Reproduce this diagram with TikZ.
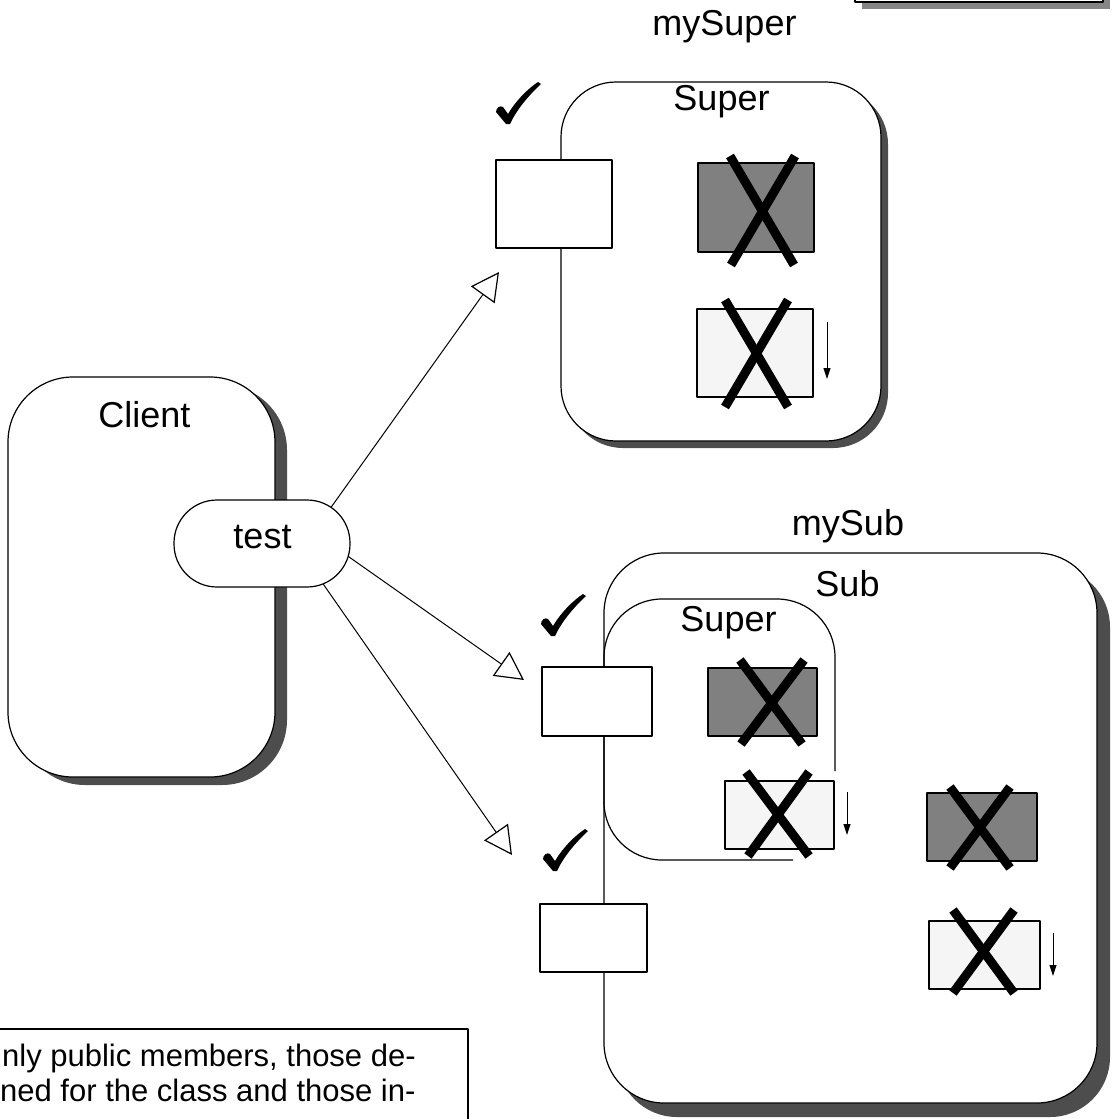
\documentclass[tikz,border=0pt]{standalone}
\usepackage{fontspec}
\setmainfont{Liberation Sans}
\usetikzlibrary{arrows.meta,shadows}
\definecolor{shade}{HTML}{4D4D4D}
\definecolor{darkfill}{HTML}{808080}
\definecolor{lightfill}{HTML}{F5F5F5}
\definecolor{capshade}{HTML}{858585}

% calligraphic tick, placed by the bottom vertex of its two strokes
\newcommand\drawtick[1]{%
  \fill[shift={#1}] (-1,1) -- (-11,-11) .. controls (-11,-15) and (-7,-18) .. (-4,-16)
    -- (1,-9) .. controls (10,-24) and (22,-35) .. (31,-41) -- (34,-39)
    .. controls (20,-26) and (9,-12) .. (3,1) -- cycle;}

\tikzset{
  objbox/.style={draw, fill=white, line width=1.2pt, inner sep=0pt},
  portbox/.style={draw, fill=white, line width=2pt, inner sep=0pt},
  hidden/.style={draw, fill=darkfill, line width=2pt, inner sep=0pt},
  inherited/.style={draw, fill=lightfill, line width=2pt, inner sep=0pt},
  cross/.style={line width=9pt, line cap=butt},
  lbl/.style={font=\fontsize{36}{40}\selectfont, anchor=base, inner sep=0pt},
  notetext/.style={font=\fontsize{31}{36}\selectfont, anchor=base west, inner sep=0pt},
  conn/.style={line width=1pt, -{Triangle[open, length=28pt, width=29pt, line width=1.2pt]}},
  downarrow/.style={line width=1pt, -{Triangle[length=11pt, width=7pt]}},
}

\begin{document}
\begin{tikzpicture}[x=1pt, y=-1pt, line join=round]
\useasboundingbox (0,0) rectangle (1111,1119);
\begin{scope}
\clip (0,0) rectangle (1111,1119);

% box in the top right corner
\fill[capshade] (862,-20) rectangle (1110,9);
\draw[fill=white, line width=1.2pt] (855,-20) rectangle (1103,2);

% object boxes with drop shadows
\node[objbox, rounded corners=65pt, minimum width=267pt, minimum height=400pt,
      drop shadow={shadow xshift=12pt, shadow yshift=-8pt, fill=shade, opacity=1}]
      (client) at (141.5,577) {};
\node[objbox, rounded corners=55pt, minimum width=320pt, minimum height=359pt,
      drop shadow={shadow xshift=7pt, shadow yshift=-7pt, fill=shade, opacity=1}]
      (superobj) at (721,261.5) {};
\node[objbox, rounded corners=60pt, minimum width=493pt, minimum height=550pt,
      drop shadow={shadow xshift=13pt, shadow yshift=-14pt, fill=shade, opacity=1}]
      (subobj) at (850.5,828) {};

% inner Super part of the Sub object (partly covered)
\draw[line width=1.2pt, rounded corners=58pt] (835,771) -- (835,599) -- (604,599)
      -- (604,860) -- (793,860);

% labels
\node[lbl] (lmysuper) at (724.5,35) {mySuper};
\node[lbl] (lsuper) at (721.5,110) {Super};
\node[lbl] (lclient) at (144.5,427) {Client};
\node[lbl] (lmysub) at (848,535) {mySub};
\node[lbl] (lsub) at (847.5,596) {Sub};
\node[lbl] (lsuperin) at (728.5,631) {Super};

% public ports
\node[portbox, minimum width=116pt, minimum height=88pt] (p0) at (554,204) {};
\node[portbox, minimum width=110pt, minimum height=69pt] (p1) at (597,701.5) {};
\node[portbox, minimum width=107pt, minimum height=68pt] (p2) at (593.5,938) {};

% private members
\node[hidden, minimum width=116pt, minimum height=89pt] (d0) at (756,207.5) {};
\node[hidden, minimum width=109pt, minimum height=68pt] (d1) at (762.5,702) {};
\node[hidden, minimum width=110pt, minimum height=68pt] (d2) at (982,827) {};
\node[inherited, minimum width=116pt, minimum height=88pt] (l0) at (755,353) {};
\node[inherited, minimum width=109pt, minimum height=68pt] (l1) at (779.5,815) {};
\node[inherited, minimum width=111pt, minimum height=68pt] (l2) at (984.5,955) {};

% crosses over the private members
\draw[cross] (730,156) -- (794,265);
\draw[cross] (795,156) -- (731,265);
\draw[cross] (725,300) -- (788,407);
\draw[cross] (788,300) -- (725,407);
\draw[cross] (740,660) -- (802,744);
\draw[cross] (804,660) -- (741,744);
\draw[cross] (746,772) -- (809,856);
\draw[cross] (809,772) -- (748,856);
\draw[cross] (950,787) -- (1010,868);
\draw[cross] (1010,787) -- (950,868);
\draw[cross] (953,910) -- (1014,993);
\draw[cross] (1014,910) -- (953,993);

% small downward arrows beside the inherited members
\coordinate (a0s) at (827,322); \coordinate (a0e) at (827,379);
\coordinate (a1s) at (847,792); \coordinate (a1e) at (847,835);
\coordinate (a2s) at (1053,933); \coordinate (a2e) at (1053,976);
\draw[downarrow] (a0s) -- (a0e);
\draw[downarrow] (a1s) -- (a1e);
\draw[downarrow] (a2s) -- (a2e);

% ticks on the reachable ports
\drawtick{(507,123)}
\drawtick{(552,635)}
\drawtick{(554,870)}

% calls from test
\coordinate (s0) at (327,513);
\coordinate (s1) at (342,552);
\coordinate (s2) at (319,578);
\coordinate (t0) at (499,272);
\coordinate (t1) at (524,680);
\coordinate (t2) at (512,855);
\draw[conn] (s0) -- (t0);
\draw[conn] (s1) -- (t1);
\draw[conn] (s2) -- (t2);

\node[draw, fill=white, line width=1.2pt, rounded corners=43pt, minimum width=176pt,
      minimum height=87pt, inner sep=0pt] (test) at (262,543.5) {};
\node[lbl] (ltest) at (262.5,548) {test};

% note box
\draw[fill=white, line width=1.2pt] (-20,1029) rectangle (468,1140);
\node[notetext] (note1) at (2,1066) {nly public members, those de-};
\node[notetext] (note2) at (0,1101) {ned for the class and those in-};
\end{scope}
\end{tikzpicture}
\end{document}
